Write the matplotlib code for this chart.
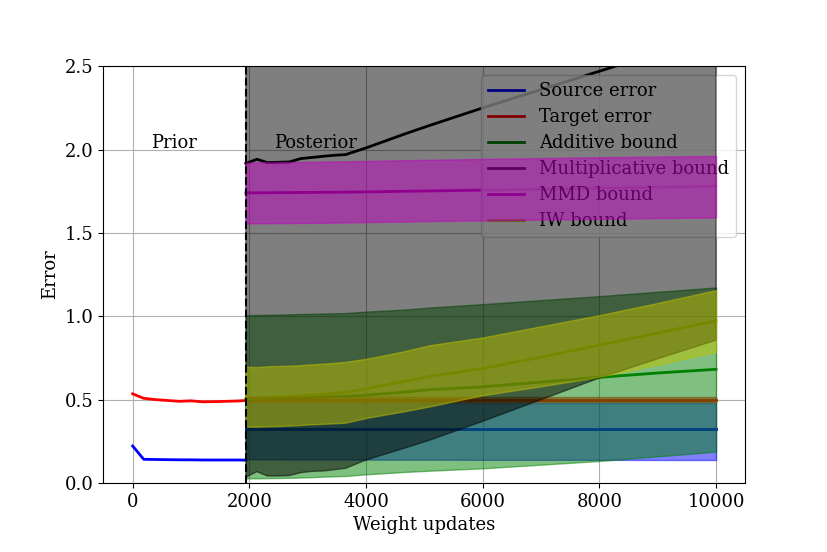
import matplotlib
matplotlib.use("Agg")
import matplotlib.pyplot as plt

plt.rcParams['font.family'] = 'DejaVu Serif'
plt.rcParams['font.size'] = 13

# prior phase
prior_x = [0, 190, 400, 600, 800, 1000, 1200, 1400, 1600, 1800, 1940]
prior_source = [0.222, 0.142, 0.141, 0.140, 0.139, 0.139, 0.138, 0.138, 0.138, 0.138, 0.137]
prior_target = [0.535, 0.508, 0.500, 0.495, 0.490, 0.493, 0.487, 0.488, 0.490, 0.492, 0.495]

# posterior phase
post_x = [1940, 2130, 2310, 2500, 2690, 2880, 3080, 3270, 3460, 3650,
          4000, 4650, 5100, 6000, 7000, 8000, 9000, 10000]

source_mean = [0.325] * 18
source_lo = [0.142, 0.142, 0.142, 0.142, 0.141, 0.141, 0.141, 0.141, 0.141, 0.141,
             0.140, 0.140, 0.140, 0.139, 0.139, 0.139, 0.138, 0.138]
source_hi = [0.48] * 18

target_mean = [0.50] * 18
target_lo = [0.487] * 18
target_hi = [0.515] * 18

add_mean = [0.500, 0.502, 0.504, 0.506, 0.508, 0.510, 0.513, 0.516, 0.518, 0.520,
            0.527, 0.545, 0.560, 0.577, 0.605, 0.634, 0.660, 0.682]
add_lo = [0.028, 0.028, 0.029, 0.030, 0.031, 0.033, 0.035, 0.038, 0.040, 0.042,
          0.052, 0.066, 0.074, 0.088, 0.110, 0.132, 0.160, 0.188]
add_hi = [1.007, 1.008, 1.009, 1.010, 1.012, 1.014, 1.015, 1.017, 1.018, 1.020,
          1.028, 1.040, 1.053, 1.073, 1.097, 1.121, 1.147, 1.173]

mult_mean = [1.917, 1.942, 1.922, 1.924, 1.926, 1.946, 1.953, 1.960, 1.966, 1.970,
             2.010, 2.092, 2.146, 2.250, 2.360, 2.470, 2.580, 2.690]
mult_lo = [0.035, 0.068, 0.042, 0.042, 0.045, 0.062, 0.070, 0.072, 0.080, 0.088,
           0.138, 0.208, 0.258, 0.370, 0.500, 0.630, 0.745, 0.857]
mult_hi = [3.80, 3.82, 3.80, 3.81, 3.81, 3.83, 3.84, 3.85, 3.85, 3.85,
           3.88, 3.98, 4.03, 4.15, 4.24, 4.32, 4.42, 4.52]

mmd_mean = [1.740, 1.741, 1.741, 1.742, 1.742, 1.743, 1.743, 1.744, 1.744, 1.745,
            1.746, 1.750, 1.752, 1.757, 1.762, 1.768, 1.774, 1.780]
mmd_lo = [1.557, 1.558, 1.558, 1.559, 1.559, 1.560, 1.560, 1.561, 1.562, 1.563,
          1.565, 1.568, 1.571, 1.575, 1.580, 1.584, 1.589, 1.593]
mmd_hi = [1.922, 1.923, 1.924, 1.925, 1.925, 1.926, 1.927, 1.928, 1.929, 1.930,
          1.932, 1.936, 1.939, 1.944, 1.949, 1.954, 1.958, 1.962]

iw_mean = [0.508, 0.510, 0.512, 0.515, 0.518, 0.522, 0.527, 0.532, 0.538, 0.544,
           0.565, 0.610, 0.640, 0.687, 0.755, 0.827, 0.900, 0.973]
iw_lo = [0.338, 0.338, 0.340, 0.342, 0.345, 0.348, 0.352, 0.355, 0.358, 0.362,
         0.390, 0.430, 0.460, 0.527, 0.580, 0.637, 0.710, 0.787]
iw_hi = [0.697, 0.695, 0.700, 0.702, 0.704, 0.707, 0.712, 0.716, 0.721, 0.727,
         0.745, 0.790, 0.827, 0.873, 0.940, 1.007, 1.080, 1.157]

switch_x = 1940

fig = plt.figure(figsize=(8.28, 5.52), dpi=100)
ax = fig.add_subplot(111)
fig.subplots_adjust(left=0.125, right=0.9, top=0.88, bottom=0.125)

ax.plot(prior_x, prior_source, color='b', lw=2, label='Source error')
ax.plot(prior_x, prior_target, color='r', lw=2, label='Target error')

series = [
    (source_mean, source_lo, source_hi, 'b', None),
    (target_mean, target_lo, target_hi, 'r', None),
    (add_mean, add_lo, add_hi, 'g', 'Additive bound'),
    (mult_mean, mult_lo, mult_hi, 'k', 'Multiplicative bound'),
    (mmd_mean, mmd_lo, mmd_hi, 'm', 'MMD bound'),
    (iw_mean, iw_lo, iw_hi, 'y', 'IW bound'),
]
# lines first, bands drawn on top of everything (legend included)
for mean, lo, hi, c, lab in series:
    ax.plot(post_x, mean, color=c, lw=2, label=lab)
    ax.fill_between(post_x, lo, hi, color=c, alpha=0.5, zorder=6)

ax.axvline(switch_x, color='k', ls='--', lw=1.5, zorder=7)

ax.text(700, 2.04, 'Prior', ha='center', va='center', zorder=8)
ax.text(3130, 2.04, 'Posterior', ha='center', va='center', zorder=8)

ax.set_xlim(-500, 10500)
ax.set_ylim(0, 2.5)
ax.set_xlabel('Weight updates')
ax.set_ylabel('Error')
ax.grid(True)
leg = ax.legend(loc='upper right', labelspacing=0.44)
leg.set_zorder(5)

plt.savefig('out.png', dpi=100)
